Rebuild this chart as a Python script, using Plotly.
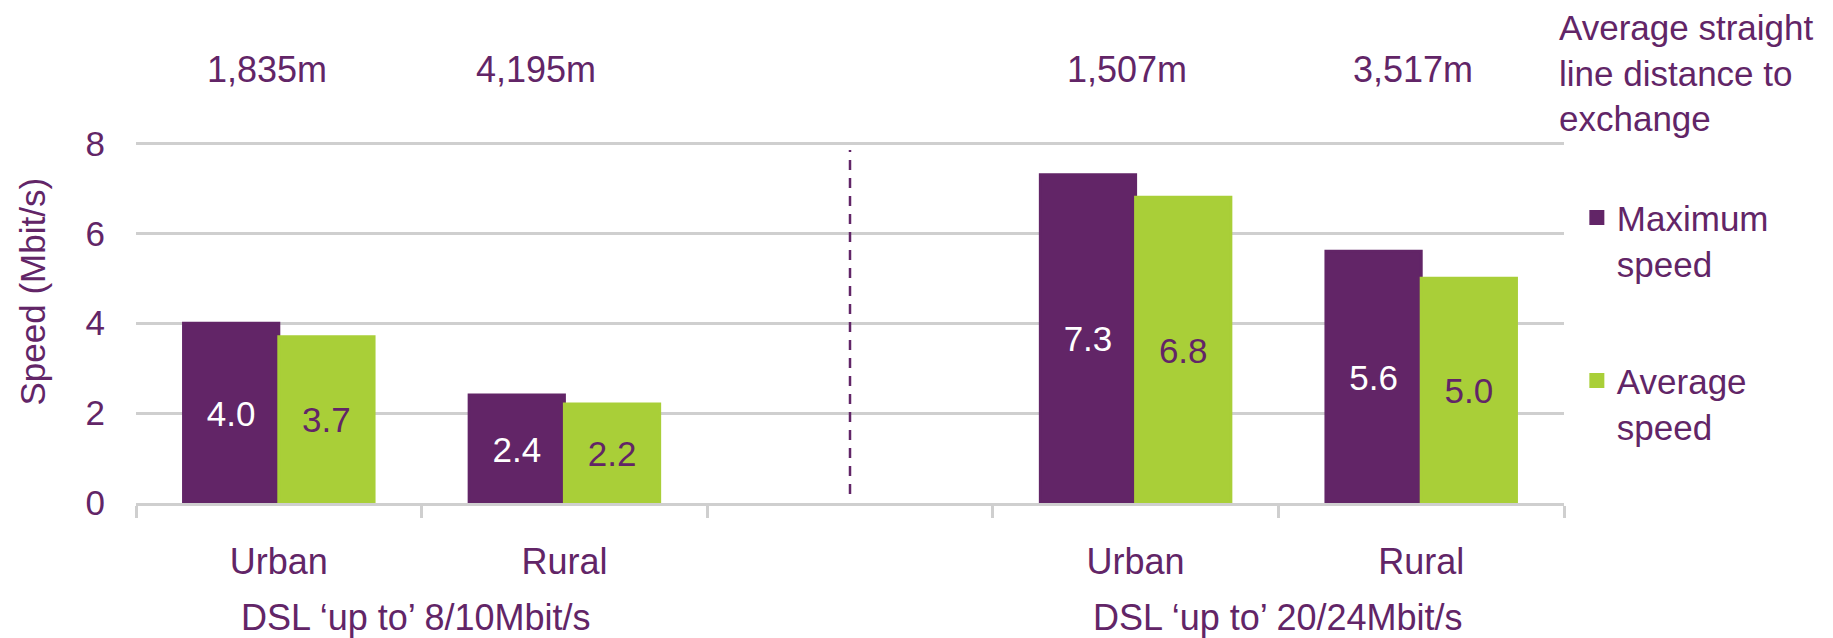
import plotly.graph_objects as go

# ---- data ----
categories = ["Urban", "Rural", "", "Urban", "Rural"]
cat_index = [0, 1, 2, 3, 4]
max_speed = [4.0, 2.4, None, 7.3, 5.6]
avg_speed = [3.7, 2.2, None, 6.8, 5.0]
distance_labels = ["1,835m", "4,195m", "1,507m", "3,517m"]
distance_x = [-0.04, 0.9, 2.97, 3.97]
group_labels = ["DSL \u2018up to\u2019 8/10Mbit/s", "DSL \u2018up to\u2019 20/24Mbit/s"]
group_x = [0.48, 3.5]
divider_x = 2
y_ticks = [0, 2, 4, 6, 8]

PURPLE = "#622567"
GREEN = "#A9CF38"
GRID = "#CFCFCF"
FONT = "Liberation Sans, Arial, sans-serif"
FS = 35
FS_L = 36

fig = go.Figure()
fig.add_trace(go.Bar(
    x=cat_index, y=max_speed, name="Maximum<br>speed", legendgroup="a",
    marker=dict(color=PURPLE, line=dict(width=3, color=PURPLE)),
    text=[None if v is None else f"{v:.1f}" for v in max_speed],
    textposition="inside", insidetextanchor="middle", textangle=0,
    constraintext="none",
    textfont=dict(color="white", size=FS, family=FONT),
    hoverinfo="skip",
))
fig.add_trace(go.Bar(
    x=cat_index, y=avg_speed, name="Average<br>speed", legendgroup="b",
    marker=dict(color=GREEN, line=dict(width=3, color=GREEN)),
    text=[None if v is None else f"{v:.1f}" for v in avg_speed],
    textposition="inside", insidetextanchor="middle", textangle=0,
    constraintext="none",
    textfont=dict(color=PURPLE, size=FS, family=FONT),
    hoverinfo="skip",
))

# dashed divider between the two DSL groups
fig.add_shape(type="line", xref="x", yref="y", x0=divider_x, x1=divider_x,
              y0=0.2, y1=7.85, line=dict(color=PURPLE, width=2.5, dash="10px,8px"))

annotations = []
for lab, xv in zip(distance_labels, distance_x):
    annotations.append(dict(text=lab, x=xv, xref="x", y=1.2, yref="paper",
                            xanchor="center", yanchor="middle", showarrow=False,
                            font=dict(size=FS_L, color=PURPLE, family=FONT)))
for lab, xv in zip(group_labels, group_x):
    annotations.append(dict(text=lab, x=xv, xref="x", y=-0.317, yref="paper",
                            xanchor="center", yanchor="middle", showarrow=False,
                            font=dict(size=FS_L, color=PURPLE, family=FONT)))
annotations.append(dict(text="Average straight<br>line distance to<br>exchange",
                        x=0.995, xref="paper", y=1.378, yref="paper",
                        xanchor="left", yanchor="top", align="left", showarrow=False,
                        font=dict(size=FS, color=PURPLE, family=FONT)))
annotations.append(dict(text="Speed (Mbit/s)", textangle=-90,
                        x=-0.0728, xref="paper", y=0.586, yref="paper",
                        xanchor="center", yanchor="middle", showarrow=False,
                        font=dict(size=FS, color=PURPLE, family=FONT)))

fig.update_layout(
    width=1825, height=630,
    margin=dict(l=128, r=269, t=134, b=135, autoexpand=False),
    paper_bgcolor="white", plot_bgcolor="white",
    barmode="group", bargap=0.333, bargroupgap=0,
    font=dict(family=FONT, size=FS, color=PURPLE),
    showlegend=True,
    legend=dict(x=1.009, y=0.872, xanchor="left", yanchor="top",
                valign="top", tracegroupgap=69,
                font=dict(size=FS, color=PURPLE, family=FONT),
                bgcolor="rgba(0,0,0,0)"),
    annotations=annotations,
    xaxis=dict(range=[-0.5, 4.5], tickmode="array", tickvals=cat_index,
               ticktext=categories, ticks="", showgrid=False, zeroline=False,
               showline=True, linecolor=GRID, linewidth=3, automargin=False,
               tickfont=dict(size=FS_L, color=PURPLE, family=FONT),
               ticklabelstandoff=25,
               minor=dict(tick0=-0.5, dtick=1, ticks="outside", ticklen=12,
                          tickwidth=3, tickcolor=GRID, showgrid=False)),
    yaxis=dict(range=[0, 8.03], tickmode="array", tickvals=y_ticks,
               showgrid=True, gridcolor=GRID, gridwidth=3, zeroline=False,
               showline=False, ticks="", automargin=False,
               tickfont=dict(size=FS, color=PURPLE, family=FONT),
               ticklabelstandoff=30),
)

fig.write_html("out.html")
